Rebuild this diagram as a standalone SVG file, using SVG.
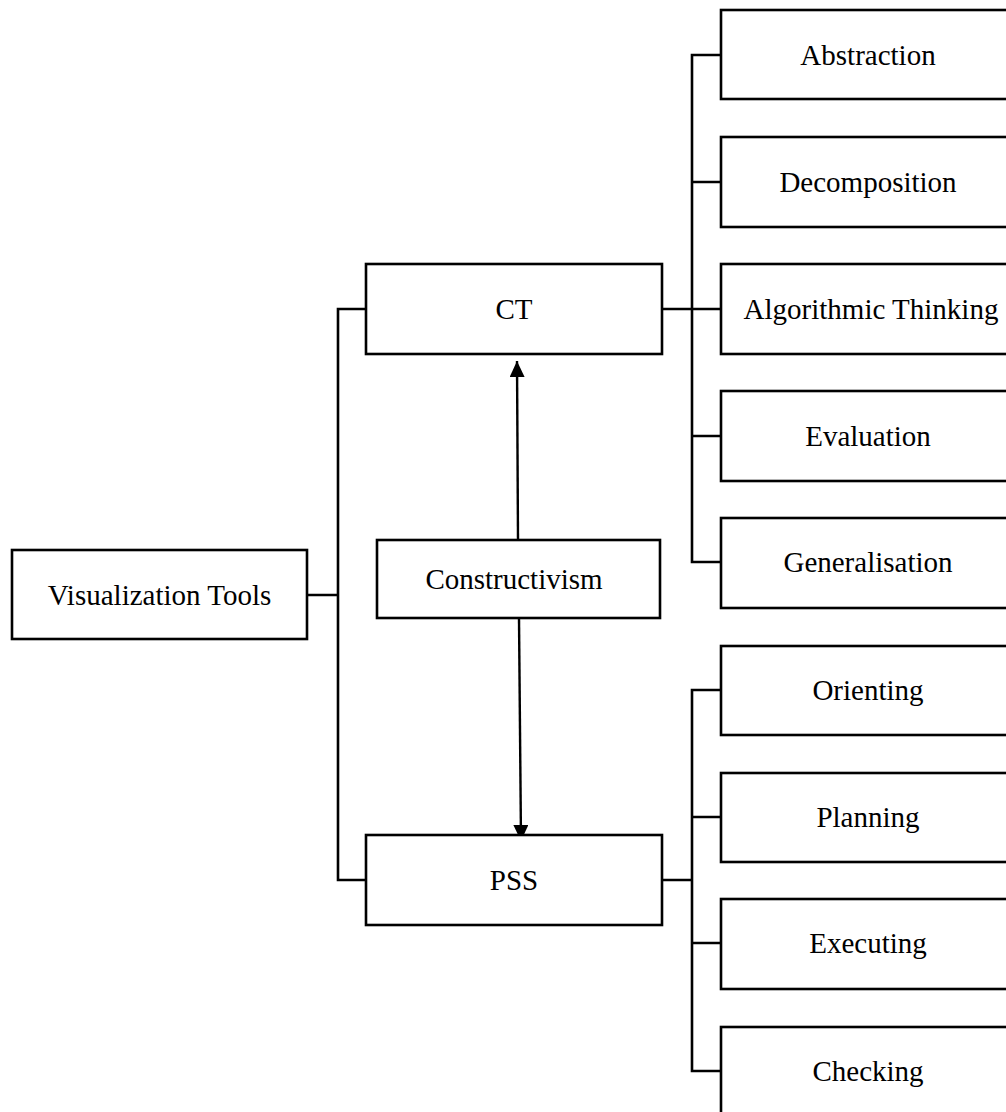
<svg xmlns="http://www.w3.org/2000/svg" width="1006" height="1112" viewBox="0 0 1006 1112">
<style>
.box{fill:#fff;stroke:#000;stroke-width:2.6}
.ln{fill:none;stroke:#000;stroke-width:2.6}
.ar{fill:none;stroke:#000;stroke-width:2.4}
.t{font-family:"Liberation Serif","Times New Roman",serif;font-size:29px;fill:#000;text-anchor:middle}
</style>
<defs>
<marker id="ah" viewBox="0 0 16 15" refX="16" refY="7.5" markerWidth="16" markerHeight="15" markerUnits="userSpaceOnUse" orient="auto">
<path d="M0,0 L16,7.5 L0,15 Z" fill="#000"/>
</marker>
</defs>
<rect width="1006" height="1112" fill="#fff"/>
<g id="connectors">
<path class="ln" d="M307,595 H338 M366,309 H338 V880 H366"/>
<path class="ln" d="M662,309 H721 M721,55 H692 V562 H721 M692,182 H721 M692,436 H721"/>
<path class="ln" d="M662,880 H692 M721,690 H692 V1071 H721 M692,817 H721 M692,943 H721"/>
<line class="ar" x1="518" y1="540" x2="517" y2="361" marker-end="url(#ah)"/>
<line class="ar" x1="519" y1="618" x2="521" y2="841" marker-end="url(#ah)"/>
</g>
<g id="node-visualization"><rect class="box" x="12" y="550" width="295" height="89"/><text class="t" x="159.5" y="605">Visualization Tools</text></g>
<g id="node-ct"><rect class="box" x="366" y="264" width="296" height="90"/><text class="t" x="514" y="319">CT</text></g>
<g id="node-constructivism"><rect class="box" x="377" y="540" width="283" height="78"/><text class="t" x="514" y="589">Constructivism</text></g>
<g id="node-pss"><rect class="box" x="366" y="835" width="296" height="90"/><text class="t" x="514" y="890">PSS</text></g>
<g id="node-abstraction"><rect class="box" x="721" y="10" width="296" height="89"/><text class="t" x="868" y="65">Abstraction</text></g>
<g id="node-decomposition"><rect class="box" x="721" y="137" width="296" height="90"/><text class="t" x="868" y="192">Decomposition</text></g>
<g id="node-algorithmic"><rect class="box" x="721" y="264" width="296" height="90"/><text class="t" x="871" y="319">Algorithmic Thinking</text></g>
<g id="node-evaluation"><rect class="box" x="721" y="391" width="296" height="90"/><text class="t" x="868" y="446">Evaluation</text></g>
<g id="node-generalisation"><rect class="box" x="721" y="518" width="296" height="90"/><text class="t" x="868" y="572">Generalisation</text></g>
<g id="node-orienting"><rect class="box" x="721" y="646" width="296" height="89"/><text class="t" x="868" y="700">Orienting</text></g>
<g id="node-planning"><rect class="box" x="721" y="773" width="296" height="89"/><text class="t" x="868" y="827">Planning</text></g>
<g id="node-executing"><rect class="box" x="721" y="899" width="296" height="90"/><text class="t" x="868" y="953">Executing</text></g>
<g id="node-checking"><rect class="box" x="721" y="1027" width="296" height="90"/><text class="t" x="868" y="1081">Checking</text></g>
</svg>
